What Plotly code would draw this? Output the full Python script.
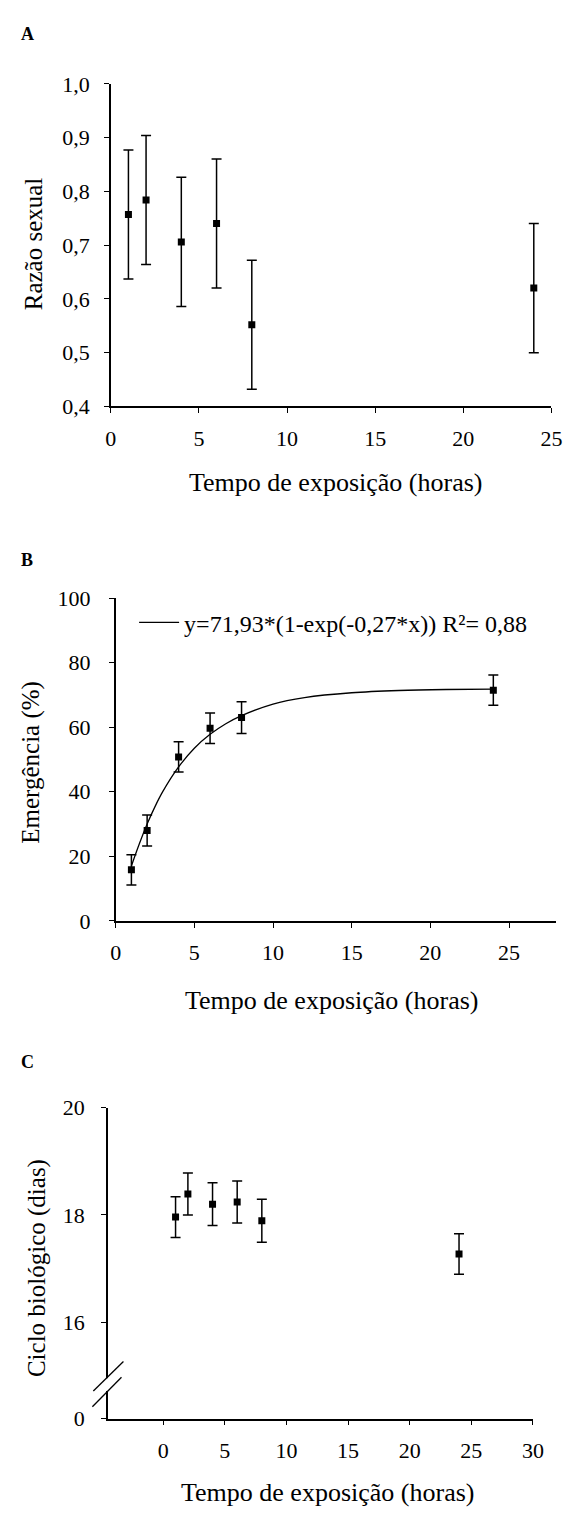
import plotly.graph_objects as go

W, H = 576, 1522


def px(x):
    return x / W


def py(y):
    return (H - y) / H


# ---------------- data ----------------
# Panel A: sex ratio
time_a = [1, 2, 4, 6, 8, 24]
sex_ratio = [0.757, 0.784, 0.706, 0.740, 0.552, 0.620]
sex_ratio_err = [0.12, 0.12, 0.12, 0.12, 0.12, 0.12]

# Panel B: emergence (%)
time_b = [1, 2, 4, 6, 8, 24]
emergence = [15.8, 28.0, 50.8, 59.7, 63.0, 71.5]
emergence_err = [4.7, 4.8, 4.7, 4.7, 4.9, 4.7]
# fitted curve
fit_x = [1, 1.5, 2, 2.5, 3, 4, 5, 6, 7, 8, 10, 12, 15, 18, 21, 24]
fit_y = [17.0, 23.8, 30.0, 35.4, 40.1, 47.7, 53.5, 57.8, 61.1, 63.6, 67.2, 69.2, 70.7, 71.4, 71.7, 71.8]
fit_label = "y=71,93*(1-exp(-0,27*x)) R²= 0,88"

# Panel C: biological cycle (days)
time_c = [1, 2, 4, 6, 8, 24]
cycle = [17.96, 18.39, 18.20, 18.24, 17.89, 17.27]
cycle_err = [0.38, 0.39, 0.40, 0.39, 0.40, 0.38]

x_title = "Tempo de exposição (horas)"

FONT = "'Liberation Serif', 'Times New Roman', 'DejaVu Serif', serif"
TICKF = dict(family=FONT, size=22, color="black")


def err(arr):
    return dict(type="data", array=arr, color="black", thickness=1.5, width=5)


marker = dict(symbol="square", size=7, color="black")

fig = go.Figure()
fig.add_trace(go.Scatter(x=time_a, y=sex_ratio, mode="markers", marker=marker,
                         error_y=err(sex_ratio_err), xaxis="x", yaxis="y", showlegend=False))
fig.add_trace(go.Scatter(x=fit_x, y=fit_y, mode="lines", line=dict(color="black", width=1.3, shape="spline"),
                         name=fit_label, xaxis="x2", yaxis="y2", showlegend=True))
fig.add_trace(go.Scatter(x=time_b, y=emergence, mode="markers", marker=marker,
                         error_y=err(emergence_err), xaxis="x2", yaxis="y2", showlegend=False))
fig.add_trace(go.Scatter(x=time_c, y=cycle, mode="markers", marker=marker,
                         error_y=err(cycle_err), xaxis="x3", yaxis="y3", showlegend=False))

axis_common = dict(showline=True, linecolor="black", linewidth=1.5, ticks="outside", ticklen=5,
                   tickwidth=1.2, tickcolor="black", showgrid=False, zeroline=False,
                   tickfont=TICKF, fixedrange=True)

fig.update_layout(
    width=W, height=H, margin=dict(l=0, r=0, t=0, b=0),
    paper_bgcolor="white", plot_bgcolor="white",
    separators=",.",
    font=dict(family=FONT, color="black"),
    xaxis=dict(domain=[px(108), px(562)], range=[0, 25], tickvals=[0, 5, 10, 15, 20, 25],
               anchor="y", ticklabelstandoff=6, **axis_common),
    yaxis=dict(domain=[py(401), py(73)], range=[0.4, 1.0], tickvals=[0.4, 0.5, 0.6, 0.7, 0.8, 0.9, 1.0],
               tickformat=".1f", anchor="x", ticklabelstandoff=10, **axis_common),
    xaxis2=dict(domain=[px(113), px(567)], range=[0, 28], tickvals=[0, 5, 10, 15, 20, 25],
                anchor="y2", ticklabelstandoff=6, **axis_common),
    yaxis2=dict(domain=[py(924), py(596)], range=[0, 100], tickvals=[0, 20, 40, 60, 80, 100],
                anchor="x2", ticklabelstandoff=14, **axis_common),
    xaxis3=dict(domain=[px(105), px(543)], range=[-4.49, 30], tickvals=[0, 5, 10, 15, 20, 25, 30],
                anchor="y3", ticklabelstandoff=6, **axis_common),
    yaxis3=dict(domain=[py(1430), py(1114)], range=[14.2, 20], tickvals=[14.2, 16, 18, 20],
                ticktext=["0", "16", "18", "20"], anchor="x3", ticklabelstandoff=12, **axis_common),
    legend=dict(x=px(132), y=py(621), xanchor="left", yanchor="middle", bgcolor="rgba(0,0,0,0)",
                font=dict(family=FONT, size=24, color="black"), itemwidth=40, borderwidth=0),
)

ann = []
# panel letters
for letter, yy in (("A", 22), ("B", 557), ("C", 1068)):
    ann.append(dict(text="<b>%s</b>" % letter, x=px(22), y=py(yy), xref="paper", yref="paper",
                    showarrow=False, xanchor="center", yanchor="middle",
                    font=dict(family=FONT, size=18, color="black")))
# x titles
for yy, xx in ((478, 340), (1005, 335), (1505, 331)):
    ann.append(dict(text=x_title, x=px(xx), y=py(yy), xref="paper", yref="paper", showarrow=False,
                    xanchor="center", yanchor="middle", font=dict(family=FONT, size=26, color="black")))
# y titles
for txt, xx, yy in (("Razão sexual", 28, 236), ("Emergência (%)", 26, 763), ("Ciclo biológico (dias)", 32, 1277)):
    ann.append(dict(text=txt, x=px(xx), y=py(yy), xref="paper", yref="paper", showarrow=False,
                    textangle=-90, xanchor="center", yanchor="middle",
                    font=dict(family=FONT, size=25, color="black")))
fig.update_layout(annotations=ann)

# axis break marks on panel C
shapes = [
    dict(type="line", xref="paper", yref="paper", x0=px(105), x1=px(105), y0=py(1389), y1=py(1402),
         line=dict(color="white", width=4), layer="above"),
    dict(type="line", xref="paper", yref="paper", x0=px(90), y0=py(1402), x1=px(121), y1=py(1372),
         line=dict(color="black", width=1.3), layer="above"),
    dict(type="line", xref="paper", yref="paper", x0=px(89), y0=py(1418), x1=px(119), y1=py(1388),
         line=dict(color="black", width=1.3), layer="above"),
]
fig.update_layout(shapes=shapes)

fig.write_html("out.html")
